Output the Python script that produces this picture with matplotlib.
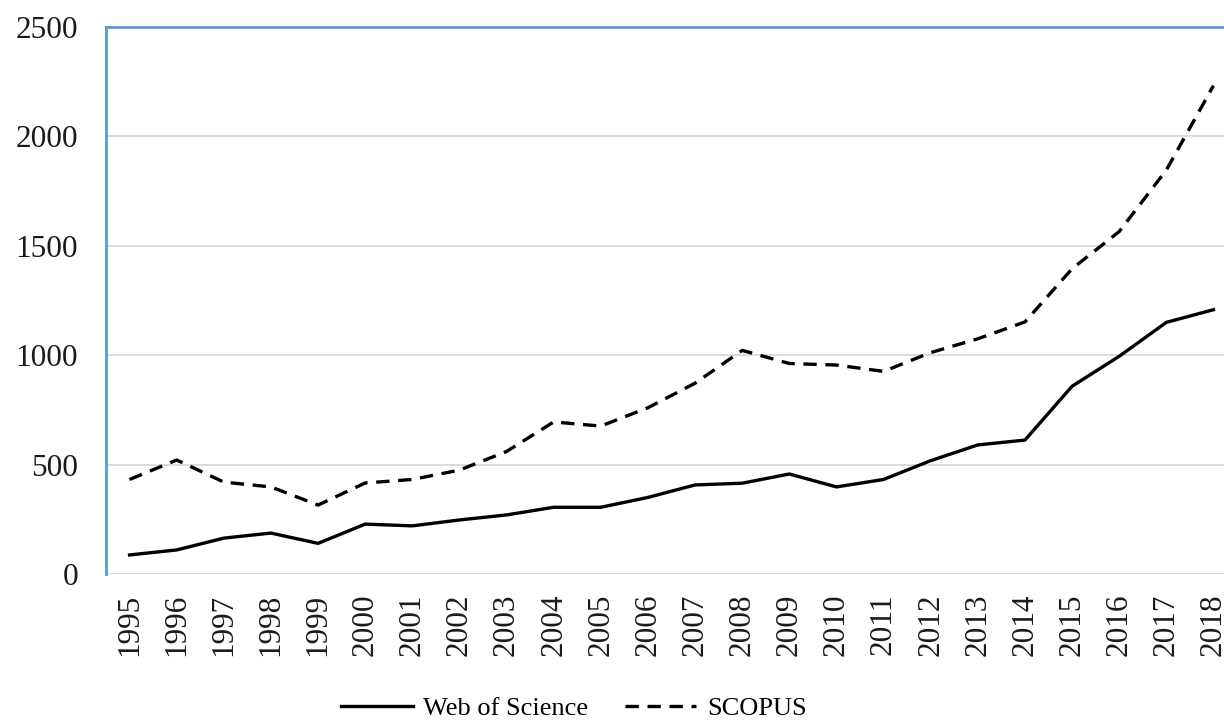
import matplotlib
matplotlib.use("Agg")
import matplotlib.pyplot as plt

# values
years = list(range(1995, 2019))
wos = [87, 110, 164, 187, 140, 228, 220, 247, 270, 305, 305, 350, 407, 415, 457,
       398, 432, 518, 590, 612, 858, 995, 1150, 1208]
scopus = [432, 521, 420, 398, 315, 416, 432, 475, 560, 695, 676, 760, 872, 1022, 962,
          955, 926, 1012, 1075, 1152, 1395, 1565, 1846, 2232]
y_ticks = [0, 500, 1000, 1500, 2000, 2500]

plt.rcParams['font.family'] = ['Liberation Serif', 'DejaVu Serif']

fig = plt.figure(figsize=(12.24, 7.23), dpi=100)
ax = fig.add_axes([106 / 1224, 1 - 574 / 723, 1131 / 1224, 547 / 723])

x = range(len(years))
ax.plot(x, wos, color="black", lw=2.4, label="Web of Science")
ax.plot(x, scopus, color="black", lw=2.4, dashes=(4, 2.6), label="SCOPUS")

ax.set_xlim(-0.5, len(years) - 0.5)
ax.set_ylim(0, 2500)
ax.set_yticks(y_ticks)
ax.set_xticks(list(x))
ax.set_xticklabels([str(y) for y in years], rotation=90)
ax.tick_params(axis="x", length=0, pad=14, labelsize=22.5, colors="#1a1a1a")
ax.tick_params(axis="y", length=0, pad=20, labelsize=22.5, colors="#1a1a1a")

ax.yaxis.grid(True, color="#d9d9d9", lw=1.3)
ax.set_axisbelow(True)
for side in ["top", "left"]:
    ax.spines[side].set_color("#5b9bd5")
    ax.spines[side].set_linewidth(2)
ax.spines["bottom"].set_visible(False)
ax.spines["right"].set_visible(False)

fig.legend(loc="center", bbox_to_anchor=(574 / 1224, 1 - 708 / 723), ncol=2,
           frameon=False, fontsize=19, handlelength=2.7, columnspacing=1.4,
           handletextpad=0.4)

fig.savefig("out.png", dpi=100)
